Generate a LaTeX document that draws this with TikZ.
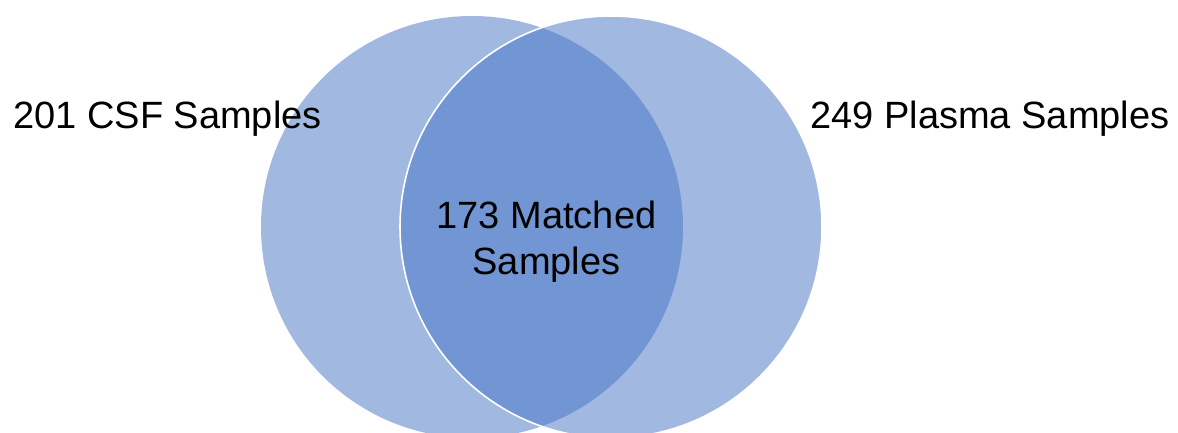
\documentclass[tikz,border=0pt]{standalone}
\usepackage{fontspec}
\setmainfont{Liberation Sans}
\definecolor{vennblue}{HTML}{4472C4}

\begin{document}
\begin{tikzpicture}[
        x=0.5pt, y=-0.5pt, % pixel-like coordinates, origin top left
        venn/.style={circle, fill=vennblue, fill opacity=0.5, inner sep=0pt, outer sep=0pt, minimum size=211pt},
        label/.style={inner sep=0pt, font=\fontsize{19}{23}\selectfont, text=black},
    ]
    \useasboundingbox (0,0) rectangle (1178,433);

    % the two sets
    \node[venn] (csf) at (472,227) {};
    \node[venn, draw=white, line width=0.8pt] (plasma) at (611,227) {};

    % labels
    \node[label, anchor=base] (csflabel) at (167.5,128) {201 CSF Samples};
    \node[label, anchor=base] (plasmalabel) at (990,128) {249 Plasma Samples};
    \node[label, align=center] (matched) at (546.5,242) {173 Matched\\Samples};
\end{tikzpicture}
\end{document}
